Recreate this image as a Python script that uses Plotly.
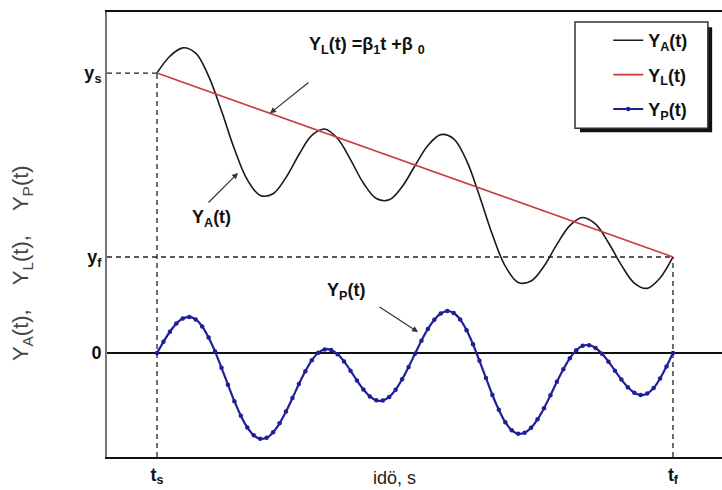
import plotly.graph_objects as go

# ---- key levels / ticks ----
T_S, T_F = 0.0, 10.0
Y_S, Y_F = 10.0, 3.43
Y_BOTTOM, Y_TOP = -3.714, 12.18
X_LEFT, X_RIGHT = -0.969, 10.95

x_tick_vals = [T_S, T_F]
x_tick_text = ["<b>t<sub>s</sub></b>", "<b>t<sub>f</sub></b>"]
y_tick_vals = [0.0, Y_F, Y_S]
y_tick_text = ["<b>0</b>", "<b>y<sub>f</sub></b>", "<b>y<sub>s</sub></b>"]

# ---- series ----
t_a = [k / 4 for k in range(41)]
y_a = [10.00, 10.60, 10.90, 10.71, 9.89, 8.65, 7.29, 6.19, 5.63, 5.69,
       6.27, 7.08, 7.77, 8.00, 7.66, 6.91, 6.07, 5.52, 5.47, 5.94,
       6.69, 7.41, 7.80, 7.65, 6.87, 5.61, 4.23, 3.10, 2.52, 2.57,
       3.10, 3.88, 4.55, 4.84, 4.60, 3.94, 3.14, 2.50, 2.31, 2.68,
       3.43]

t_l = [T_S, T_F]
y_l = [Y_S, Y_F]

t_p = [k / 8 for k in range(81)]
y_p = [0.00, 0.40, 0.76, 1.05, 1.23, 1.29, 1.20, 0.95, 0.55, 0.05,
       -0.53, -1.13, -1.72, -2.24, -2.66, -2.94, -3.06, -3.03, -2.83, -2.51,
       -2.09, -1.61, -1.11, -0.65, -0.26, 0.01, 0.13, 0.11, -0.04, -0.30,
       -0.63, -0.98, -1.30, -1.55, -1.69, -1.70, -1.57, -1.31, -0.94, -0.50,
       -0.03, 0.44, 0.86, 1.19, 1.41, 1.50, 1.43, 1.20, 0.81, 0.31,
       -0.28, -0.89, -1.50, -2.03, -2.47, -2.76, -2.88, -2.85, -2.67, -2.37,
       -1.97, -1.51, -1.03, -0.58, -0.19, 0.10, 0.26, 0.28, 0.18, -0.03,
       -0.31, -0.63, -0.95, -1.22, -1.42, -1.50, -1.45, -1.25, -0.91, -0.48,
       0.00]

FONT = "Liberation Sans, Arial, sans-serif"
BLACK = "#1a1a1a"
RED = "#cc3b3b"
BLUE = "#1f1f99"

fig = go.Figure()
fig.add_trace(go.Scatter(x=t_a, y=y_a, mode="lines", name="<b>Y<sub>A</sub>(t)</b>",
                         legendgroup="a",
                         line=dict(color=BLACK, width=1.6, shape="spline")))
fig.add_trace(go.Scatter(x=t_l, y=y_l, mode="lines", name="<b>Y<sub>L</sub>(t)</b>",
                         legendgroup="l",
                         line=dict(color=RED, width=1.6)))
fig.add_trace(go.Scatter(x=t_p, y=y_p, mode="lines+markers", name="<b>Y<sub>P</sub>(t)</b>",
                         legendgroup="p",
                         line=dict(color=BLUE, width=2.2, shape="spline"),
                         marker=dict(size=4.5, color=BLUE)))

dash = "5px,4px"
shapes = [
    dict(type="line", xref="x", yref="y", x0=X_LEFT, x1=T_S, y0=Y_S, y1=Y_S,
         line=dict(color="#222", width=1.3, dash=dash), layer="below"),
    dict(type="line", xref="x", yref="y", x0=T_S, x1=T_S, y0=Y_BOTTOM, y1=Y_S,
         line=dict(color="#222", width=1.3, dash=dash), layer="below"),
    dict(type="line", xref="x", yref="y", x0=X_LEFT, x1=T_F, y0=Y_F, y1=Y_F,
         line=dict(color="#222", width=1.3, dash=dash), layer="below"),
    dict(type="line", xref="x", yref="y", x0=T_F, x1=T_F, y0=Y_BOTTOM, y1=Y_F,
         line=dict(color="#222", width=1.3, dash=dash), layer="below"),
    # legend shadow and frame
    dict(type="rect", xref="paper", yref="paper", x0=0.769, x1=0.984, y0=0.730, y1=0.966,
         fillcolor="#111", line=dict(width=0), layer="above"),
    dict(type="rect", xref="paper", yref="paper", x0=0.761, x1=0.977, y0=0.739, y1=0.9775,
         fillcolor="white", line=dict(color="#333", width=1.5), layer="above"),
]

afont = dict(family=FONT, size=18, color="#111")
arrow = dict(showarrow=True, arrowhead=2, arrowsize=1, arrowwidth=1.2,
             arrowcolor="#333", standoff=0, axref="pixel", ayref="pixel", text="")
annotations = [
    dict(x=4.07, y=11.0, xref="x", yref="y", showarrow=False, font=afont,
         text="<b>Y<sub>L</sub>(t) =β<sub>1</sub>t +β <sub>0</sub></b>"),
    dict(x=2.19, y=8.56, xref="x", yref="y", ax=40, ay=-32, **arrow),
    dict(x=1.05, y=4.79, xref="x", yref="y", showarrow=False, font=afont,
         text="<b>Y<sub>A</sub>(t)</b>"),
    dict(x=1.57, y=6.43, xref="x", yref="y", ax=-31, ay=31, **arrow),
    dict(x=3.66, y=2.21, xref="x", yref="y", showarrow=False, font=afont,
         text="<b>Y<sub>P</sub>(t)</b>"),
    dict(x=5.06, y=0.75, xref="x", yref="y", ax=-40, ay=-26, **arrow),
    # axis titles
    dict(x=0.468, y=-0.047, xref="paper", yref="paper", showarrow=False,
         xanchor="center", yanchor="middle",
         font=dict(family=FONT, size=18, color="#222"), text="idö, s"),
    dict(x=-0.138, y=0.436, xref="paper", yref="paper", showarrow=False, textangle=-90,
         xanchor="center", yanchor="middle",
         font=dict(family=FONT, size=22, color="#444"),
         text="Y<sub>A</sub>(t),&nbsp;&nbsp;&nbsp; Y<sub>L</sub>(t),"
              "&nbsp;&nbsp;&nbsp; Y<sub>P</sub>(t)"),
]

fig.update_layout(
    width=722, height=490,
    margin=dict(l=107, r=0, t=12, b=33),
    paper_bgcolor="white", plot_bgcolor="white",
    font=dict(family=FONT, color="#111"),
    showlegend=True,
    legend=dict(x=0.815, y=0.9775, xanchor="left", yanchor="top",
                bgcolor="rgba(0,0,0,0)", borderwidth=0,
                font=dict(family=FONT, size=18, color="#111"),
                tracegroupgap=8),
    xaxis=dict(range=[X_LEFT, X_RIGHT], tickvals=x_tick_vals, ticktext=x_tick_text,
               tickfont=dict(family=FONT, size=18, color="#111"),
               showgrid=False, zeroline=False, showline=True, linecolor="#111",
               linewidth=2, mirror=True, ticks=""),
    yaxis=dict(range=[Y_BOTTOM, Y_TOP], tickvals=y_tick_vals, ticktext=y_tick_text,
               tickfont=dict(family=FONT, size=18, color="#111"),
               showgrid=False, zeroline=True, zerolinecolor="#111", zerolinewidth=1.6,
               showline=True, linecolor="#777", linewidth=2, ticks=""),
    shapes=shapes,
    annotations=annotations,
)

fig.write_html("out.html",
               config={"displayModeBar": False},
               post_script="document.body.style.margin='0';document.body.style.overflow='hidden';")
